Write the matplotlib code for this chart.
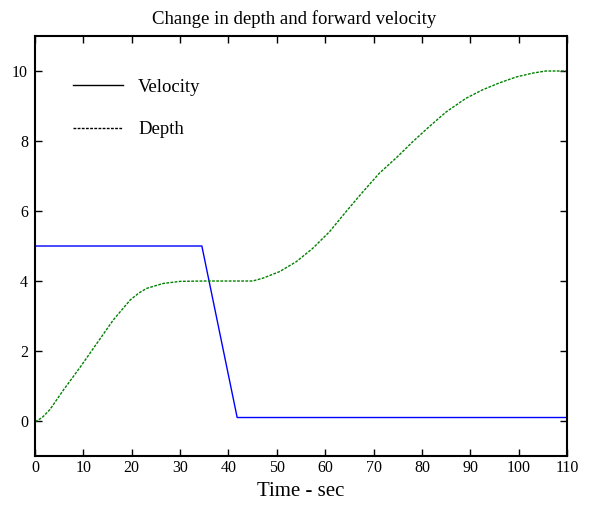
import matplotlib.pyplot as plt
import numpy as np

plt.rcParams['font.family'] = ['Liberation Serif', 'DejaVu Serif']

# Velocity profile
vel_t = [0, 34.5, 41.8, 110]
vel_v = [5, 5, 0.1, 0.1]

# Depth profile
depth_t = [0, 0.3, 1.5, 3.1, 5.9, 9.4, 12.8, 16.2, 19.7, 21.5, 23.1, 26.5, 30, 35, 40, 45,
           47.1, 50.6, 54.0, 57.4, 60.9, 64.3, 67.8, 71.2, 74.7, 78.1, 81.5,
           85.0, 89.1, 92.5, 96.0, 99.5, 102.9, 105.6, 110]
depth_d = [0, 0, 0.1, 0.33, 0.89, 1.55, 2.22, 2.89, 3.46, 3.66, 3.79, 3.93, 3.99, 4.0, 4.0, 4.0,
           4.08, 4.27, 4.55, 4.93, 5.41, 5.98, 6.55, 7.08, 7.52, 7.98, 8.41,
           8.83, 9.22, 9.46, 9.66, 9.83, 9.94, 10.0, 10.0]

fig = plt.figure(figsize=(5.89, 5.05), dpi=100)
ax = fig.add_axes([0.0594, 0.097, 0.9033, 0.8317])

ax.plot(vel_t, vel_v, color='blue', linewidth=1, label='Velocity')
ax.plot(depth_t, depth_d, color=(0, 0.5, 0), linewidth=1,
        linestyle=(0, (2, 1)), label='Depth')

ax.set_xlim(0, 110)
ax.set_ylim(-1, 11)
ax.set_xticks(np.arange(0, 111, 10))
ax.set_yticks(np.arange(0, 11, 2))
ax.tick_params(direction='in', top=True, right=True, length=5, width=1,
               labelsize=11.5)
ax.tick_params(axis='x', pad=3)
ax.tick_params(axis='y', pad=5)
for s in ax.spines.values():
    s.set_linewidth(1.5)

ax.set_title('Change in depth and forward velocity', fontsize=13.5, pad=9, x=0.487)
ax.set_xlabel('Time - sec', fontsize=15, labelpad=4)

leg = ax.legend(loc='upper left', bbox_to_anchor=(0.04, 0.938), frameon=False,
                fontsize=13.5, labelspacing=1.35, handlelength=2.67,
                handletextpad=0.8)
for h in leg.get_lines():
    h.set_color('black')

fig.savefig('out.png', dpi=100)
